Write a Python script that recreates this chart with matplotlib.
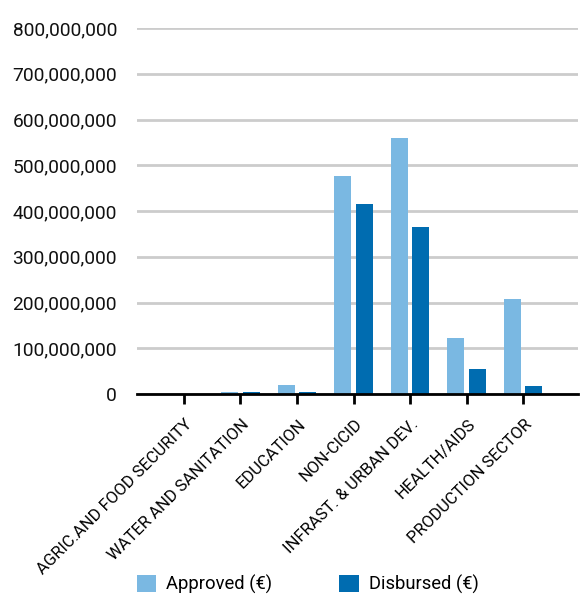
import matplotlib
matplotlib.use("Agg")
import matplotlib.pyplot as plt
import matplotlib.transforms as mtransforms
import numpy as np
from matplotlib.ticker import FuncFormatter

plt.rcParams['font.family'] = ['Roboto', 'DejaVu Sans']

categories = ["AGRIC.AND FOOD SECURITY", "WATER AND SANITATION", "EDUCATION",
              "NON-CICID", "INFRAST. & URBAN DEV.", "HEALTH/AIDS", "PRODUCTION SECTOR"]
approved = [500000, 5000000, 20000000, 477000000, 560000000, 122000000, 208000000]
disbursed = [300000, 5000000, 5000000, 416000000, 365000000, 55000000, 17500000]
series_names = ["Approved (\u20ac)", "Disbursed (\u20ac)"]
colors = ["#7ab8e2", "#006cb0"]

fig = plt.figure(figsize=(5.82, 5.97), dpi=100)
ax = fig.add_axes([137/582, 1-394/597, (578-137)/582, (394-28)/597])

x = np.arange(len(categories))
w = 0.30
off = 0.19
ax.bar(x - off, approved, width=w, color=colors[0], label=series_names[0], zorder=3)
ax.bar(x + off, disbursed, width=w, color=colors[1], label=series_names[1], zorder=3)

ax.set_xlim(-0.83, 6.97)
ax.set_ylim(0, 800000000)
ax.set_yticks(np.arange(0, 800000001, 100000000))
ax.yaxis.set_major_formatter(FuncFormatter(lambda v, p: f"{int(v):,}"))
ax.grid(axis='y', color='#cccccc', linewidth=2, zorder=0)
ax.set_axisbelow(True)
for s in ['top', 'right', 'left']:
    ax.spines[s].set_visible(False)
ax.spines['bottom'].set_linewidth(2)
ax.spines['bottom'].set_color('black')
ax.spines['bottom'].set_zorder(4)
ax.tick_params(axis='y', length=0, labelsize=13.8, pad=14.4, labelcolor='#111111')
ax.tick_params(axis='x', length=7, width=2, color='black', labelsize=12, pad=13)
ax.set_xticks(x)
ax.set_xticklabels(categories, rotation=45, ha='right', va='center', rotation_mode='anchor')
shift = mtransforms.ScaledTranslation(6/100, 0, fig.dpi_scale_trans)
for lbl in ax.get_xticklabels():
    lbl.set_transform(lbl.get_transform() + shift)

fig.legend(loc='center left', bbox_to_anchor=(137/582, 1-584/597), ncol=2, frameon=False,
           fontsize=13.25, handlelength=1.05, handleheight=1.05, handletextpad=0.54,
           columnspacing=3.64, borderpad=0, borderaxespad=0)

fig.savefig("out.png", dpi=100)
